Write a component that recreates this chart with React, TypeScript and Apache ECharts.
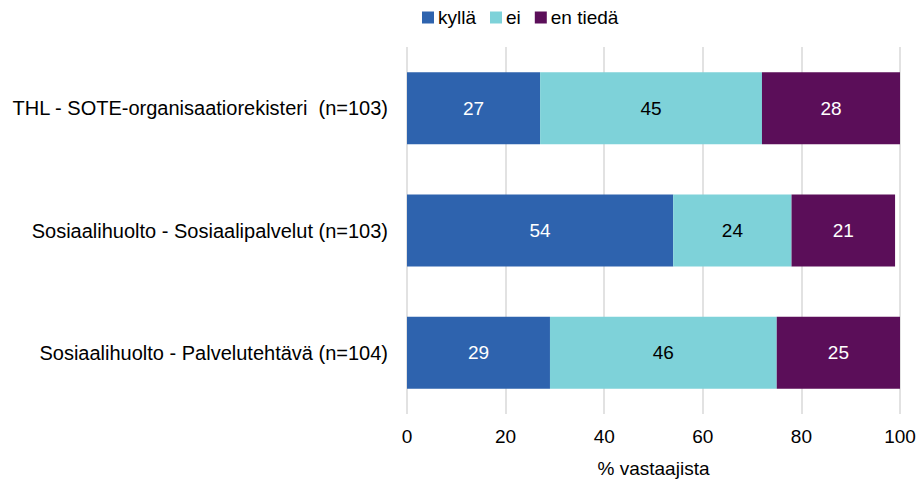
import React, { useEffect, useRef } from "react";
import * as echarts from "echarts";

const categories = [
  "THL - SOTE-organisaatiorekisteri  (n=103)",
  "Sosiaalihuolto - Sosiaalipalvelut (n=103)",
  "Sosiaalihuolto - Palvelutehtävä (n=104)",
];
const kylla = [27, 54, 29];
const ei = [45, 24, 46];
const enTieda = [28, 21, 25];
const xTicks = [0, 20, 40, 60, 80, 100];

const FONT = "Liberation Sans, Arial, sans-serif";

export default function App() {
  const ref = useRef<HTMLDivElement>(null);
  useEffect(() => {
    document.body.style.margin = "0";
    if (!ref.current) return;
    const chart = echarts.init(ref.current, undefined, { renderer: "svg" });
    const mk = (name: string, data: number[], color: string, labelColor: string) => ({
      name,
      type: "bar",
      stack: "all",
      data,
      barWidth: 72,
      itemStyle: { color },
      label: {
        show: true,
        position: "inside",
        color: labelColor,
        fontSize: 19,
        fontFamily: FONT,
      },
    });
    chart.setOption({
      animation: false,
      textStyle: { fontFamily: FONT },
      legend: {
        top: 8,
        left: 422,
        padding: 0,
        itemWidth: 12,
        itemHeight: 12,
        itemGap: 14,
        icon: "rect",
        textStyle: { fontSize: 19, color: "#000", fontFamily: FONT, padding: [0, 0, 0, -1] },
        data: ["kyllä", "ei", "en tiedä"],
      },
      grid: { left: 407, right: 21, top: 47, bottom: 70, containLabel: false },
      xAxis: {
        type: "value",
        min: 0,
        max: 100,
        interval: 20,
        name: "% vastaajista",
        nameLocation: "middle",
        nameGap: 45,
        nameTextStyle: { fontSize: 19, color: "#000", fontFamily: FONT },
        axisLine: { show: false },
        axisTick: { show: false },
        axisLabel: {
          fontSize: 19,
          color: "#000",
          margin: 13,
          fontFamily: FONT,
          formatter: (v: number) => (xTicks.includes(v) ? String(v) : ""),
        },
        splitLine: { show: true, lineStyle: { color: "#d9d9d9", width: 1.5 } },
      },
      yAxis: {
        type: "category",
        inverse: true,
        data: categories,
        axisLine: { show: false },
        axisTick: { show: false },
        axisLabel: { fontSize: 20, color: "#000", margin: 19, fontFamily: FONT },
      },
      series: [
        mk("kyllä", kylla, "#2E63AE", "#fff"),
        mk("ei", ei, "#7ED2D9", "#000"),
        mk("en tiedä", enTieda, "#5B0E59", "#fff"),
      ],
    });
    return () => chart.dispose();
  }, []);
  return <div ref={ref} style={{ width: 921, height: 484 }} />;
}
